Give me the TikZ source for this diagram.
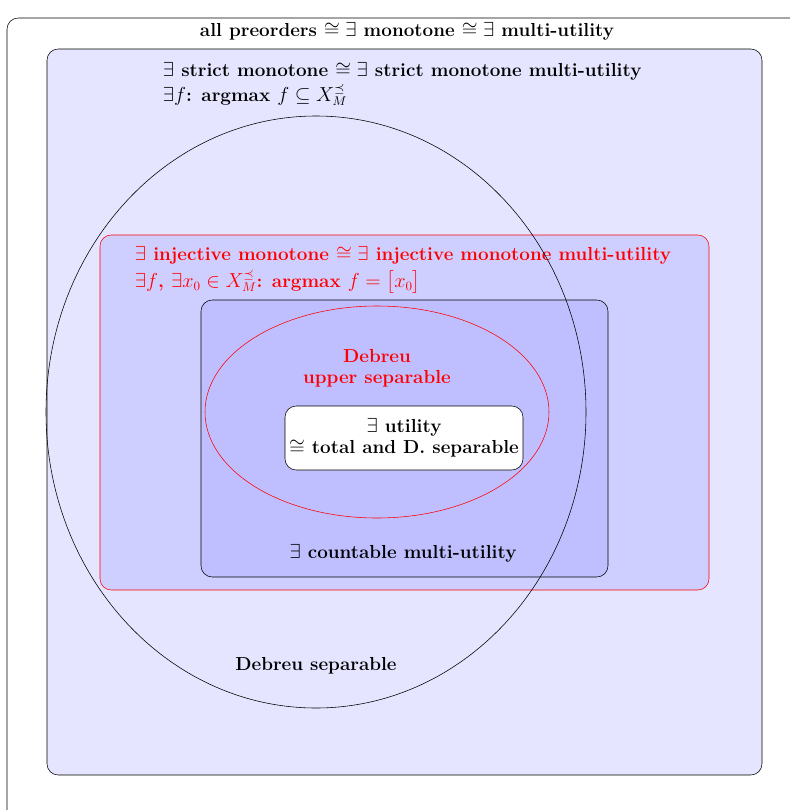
\documentclass[tikz,border=0pt]{standalone}
\usepackage{amsmath,amssymb}
\begin{document}
\begin{tikzpicture}[x=0.025cm,y=-0.025cm,
    every node/.style={font=\fontsize{13.4pt}{15pt}\selectfont\bfseries, align=center},
    setbox/.style={draw, rounded corners=8pt}]
  \useasboundingbox (0,0) rectangle (790,810);
  % all preorders
  \draw[setbox] (7,18) rectangle (830,840);
  \node (all) at (407,31) {all preorders $\cong\exists$ monotone $\cong\exists$ multi-utility};
  % strict monotone
  \draw[setbox, fill=blue!10] (47,49) rectangle (762,775);
  \node[anchor=west] (strict) at (158,71) {$\exists$ strict monotone $\cong\exists$ strict monotone multi-utility};
  \node[anchor=west] (strictf) at (158,95) {$\exists f$: argmax $f\subseteq X^{\preceq}_M$};
  % injective monotone
  \draw[setbox, draw=red, fill=blue!19] (100,235) rectangle (709,590);
  \node[anchor=west, text=red] (inj) at (130,255) {$\exists$ injective monotone $\cong\exists$ injective monotone multi-utility};
  \node[anchor=west, text=red] (injf) at (130,282) {$\exists f$, $\exists x_0\in X^{\preceq}_M$: argmax $f=\bigl[x_0\bigr]$};
  % countable multi-utility
  \draw[setbox, fill=blue!25] (201,300) rectangle (608,577);
  \node (count) at (403,553) {$\exists$ countable multi-utility};
  % Debreu separable
  \draw (316,412) ellipse [x radius=270, y radius=296];
  \node (deb) at (316,666) {Debreu separable};
  % Debreu upper separable
  \draw[red] (377,412) ellipse [x radius=172, y radius=106];
  \node[text=red] (debup) at (377,368) {Debreu\\upper separable};
  % utility
  \node[draw, fill=white, rounded corners=8pt, minimum width=238*0.025cm, minimum height=64*0.025cm, inner sep=1pt] (util) at (404,438) {$\exists$ utility\\$\cong$ total and D. separable};
\end{tikzpicture}
\end{document}
